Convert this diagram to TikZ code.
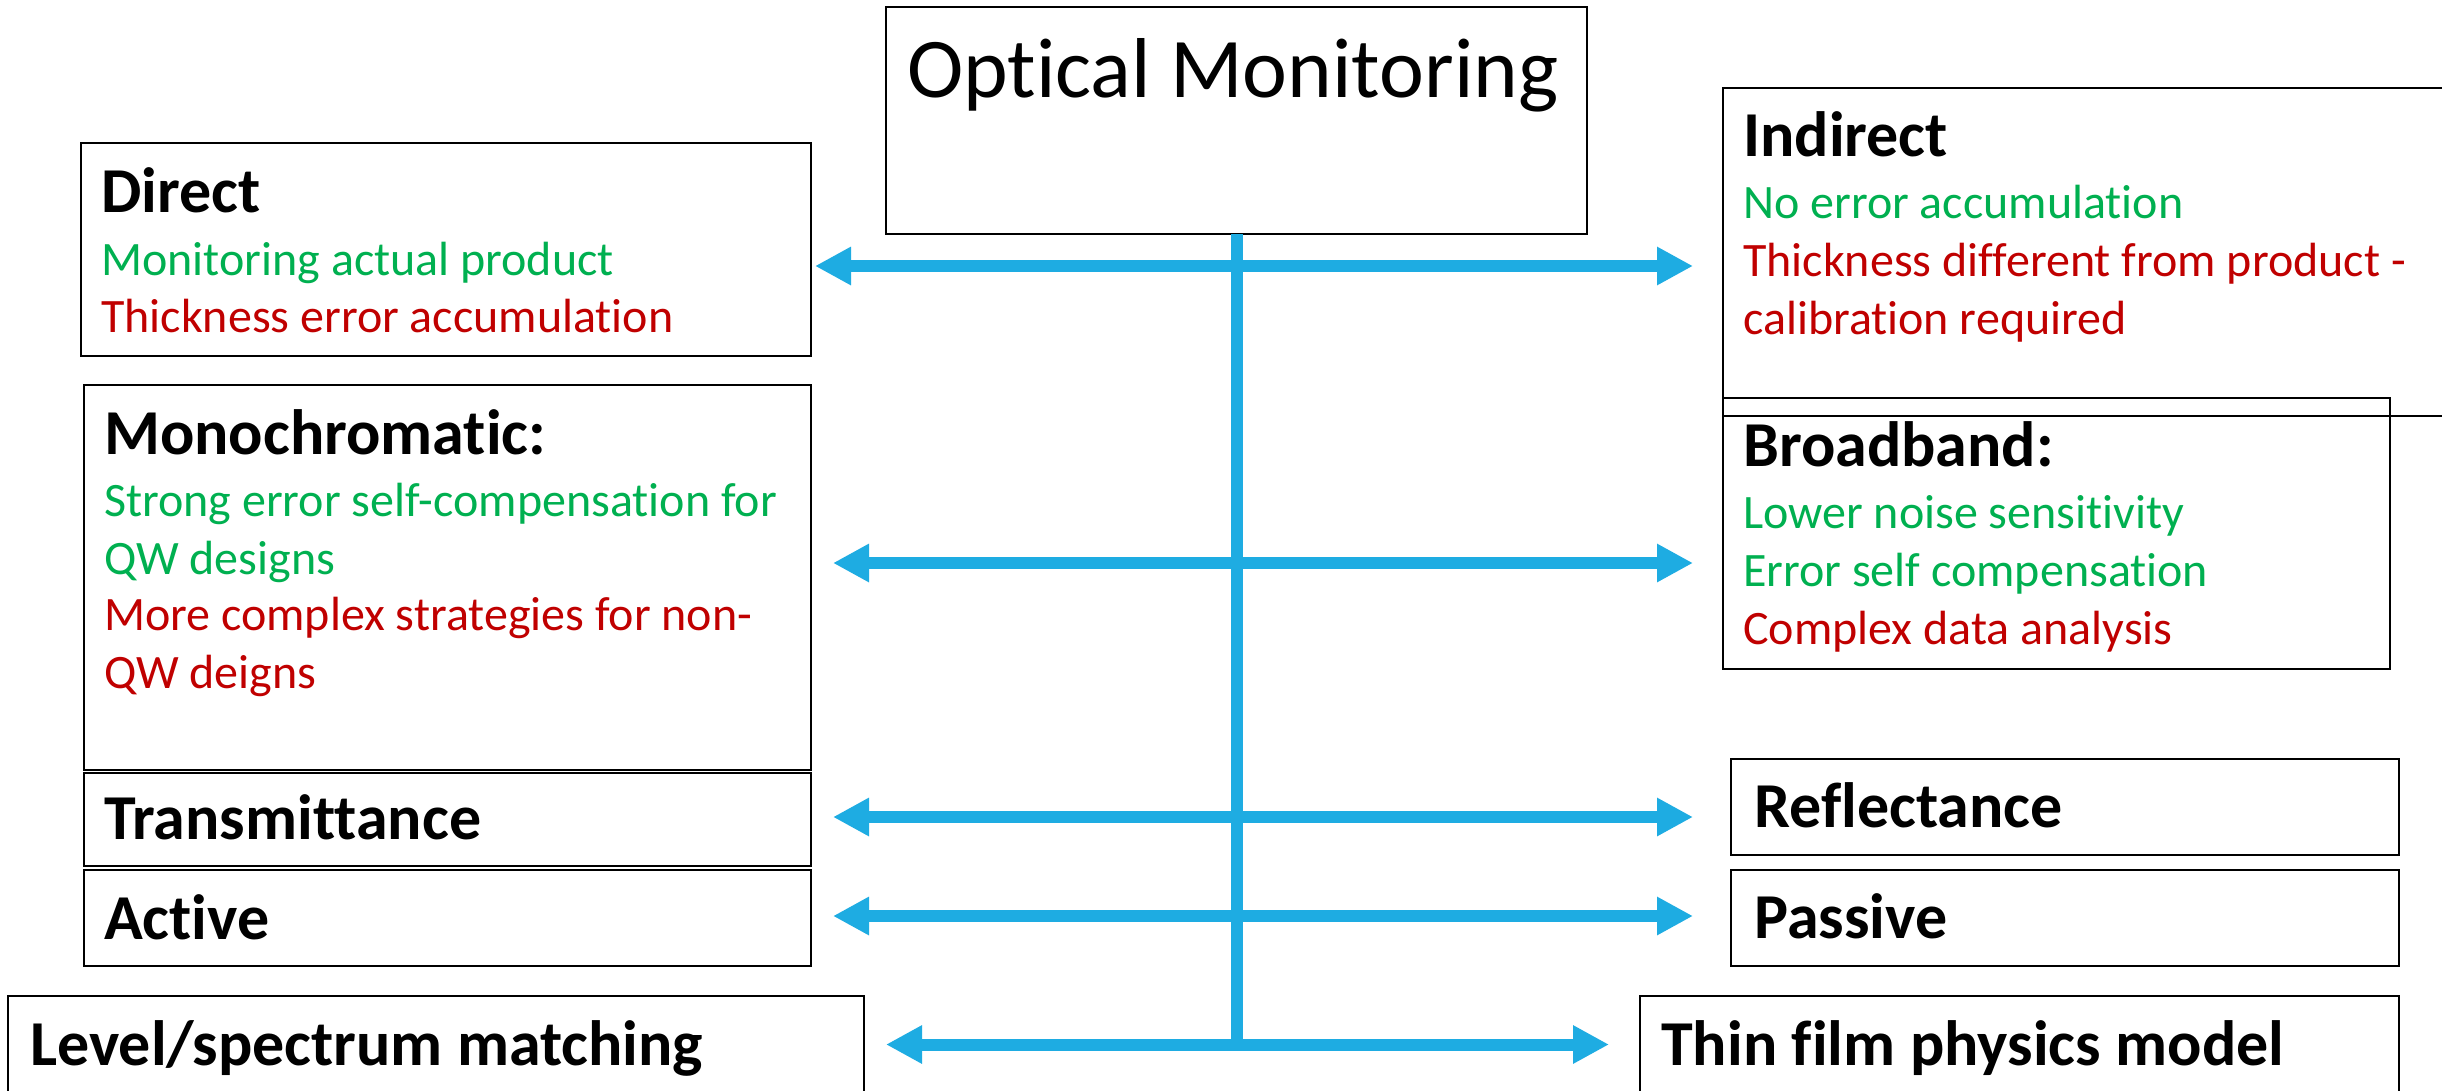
\documentclass[tikz,border=0pt]{standalone}
\usepackage{fontspec}
\setmainfont{Carlito}[Ligatures={NoCommon}]
\usetikzlibrary{arrows.meta}
\definecolor{okgreen}{HTML}{00B050}
\definecolor{okred}{HTML}{C00000}
\definecolor{arrowblue}{HTML}{1EACE2}
\tikzset{
  box/.style={draw=black, line width=2pt, fill=none, inner sep=0pt, outer sep=0pt},
  ttl/.style={anchor=base west, inner sep=0pt, font=\fontsize{64}{77}\selectfont\bfseries},
  txt/.style={anchor=base west, inner sep=0pt, font=\fontsize{48}{57.6}\selectfont},
  good/.style={txt, text=okgreen},
  bad/.style={txt, text=okred},
  conn/.style={draw=arrowblue, line width=12pt,
    arrows={Triangle[length=36pt,width=36pt,fill=arrowblue]-Triangle[length=36pt,width=36pt,fill=arrowblue]}},
  trunk/.style={draw=arrowblue, line width=12pt}
}
\begin{document}
\begin{tikzpicture}[x=1pt,y=-1pt]
\useasboundingbox (0,0) rectangle (2442,1090);
\fill[white] (0,0) rectangle (2442,1090);

% boxes
\node[box, minimum width=701pt, minimum height=227pt, anchor=north west] (om) at (886,7) {};
\node[box, minimum width=730pt, minimum height=213pt, anchor=north west] (direct) at (81,143) {};
\node[box, minimum width=760pt, minimum height=328pt, anchor=north west] (indirect) at (1723,88) {};
\node[box, minimum width=667pt, minimum height=271pt, anchor=north west] (broad) at (1723,398) {};
\node[box, minimum width=727pt, minimum height=385pt, anchor=north west] (mono) at (84,385) {};
\node[box, minimum width=727pt, minimum height=93pt, anchor=north west] (trans) at (84,773) {};
\node[box, minimum width=727pt, minimum height=96pt, anchor=north west] (active) at (84,870) {};
\node[box, minimum width=856pt, minimum height=120pt, anchor=north west] (level) at (8,996) {};
\node[box, minimum width=668pt, minimum height=96pt, anchor=north west] (refl) at (1731,759) {};
\node[box, minimum width=668pt, minimum height=96pt, anchor=north west] (passive) at (1731,870) {};
\node[box, minimum width=759pt, minimum height=120pt, anchor=north west] (thin) at (1640,996) {};

% texts
\node[anchor=base west, inner sep=0pt, font=\fontsize{85}{100}\selectfont] (omt) at (907,97) {Optical Monitoring};

\node[ttl] (dt) at (101,212) {Direct};
\node[good] (d1) at (101,275) {Monitoring actual product};
\node[bad] (d2) at (101,332) {Thickness error accumulation};

\node[ttl] (it) at (1743,156) {Indirect};
\node[good] (i1) at (1743,218) {No error accumulation};
\node[bad] (i2) at (1743,276) {Thickness different from product -};
\node[bad] (i3) at (1743,334) {calibration required};

\node[ttl] (mt) at (104,454) {Monochromatic:};
\node[good] (m1) at (104,516) {Strong error self-compensation for};
\node[good] (m2) at (104,574) {QW designs};
\node[bad] (m3) at (104,630) {More complex strategies for non-};
\node[bad] (m4) at (104,688) {QW deigns};

\node[ttl] (bt) at (1743,466) {Broadband:};
\node[good] (b1) at (1743,528) {Lower noise sensitivity};
\node[good] (b2) at (1743,586) {Error self compensation};
\node[bad] (b3) at (1743,644) {Complex data analysis};

\node[ttl] (tt) at (104,839) {Transmittance};
\node[ttl] (at) at (104,939) {Active};
\node[ttl] (rt) at (1754,827) {Reflectance};
\node[ttl] (pt) at (1754,938) {Passive};
\node[ttl] (lt) at (30,1065) {Level/spectrum matching};
\node[ttl] (tft) at (1661,1065) {Thin film physics model};

% connector end points
\coordinate (trunkb) at (1236.5,1050);
\coordinate (a1l) at (815,266);   \coordinate (a1r) at (1693,266);
\coordinate (a2l) at (833,563);   \coordinate (a2r) at (1693,563);
\coordinate (a3l) at (833,817);   \coordinate (a3r) at (1693,817);
\coordinate (a4l) at (833,916);   \coordinate (a4r) at (1693,916);
\coordinate (a5l) at (886,1044.5); \coordinate (a5r) at (1609,1044.5);

\draw[trunk] (om.south -| trunkb) -- (trunkb);
\draw[conn] (a1l) -- (a1r);
\draw[conn] (a2l) -- (a2r);
\draw[conn] (a3l) -- (a3r);
\draw[conn] (a4l) -- (a4r);
\draw[conn] (a5l) -- (a5r);
\end{tikzpicture}
\end{document}
